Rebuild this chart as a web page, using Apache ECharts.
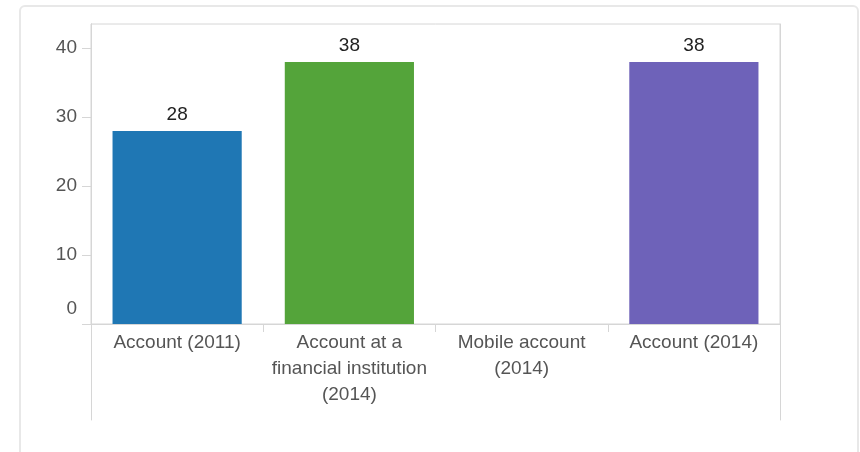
<!DOCTYPE html>
<html lang="en">
<head>
    <meta charset="UTF-8">
    <title>Account ownership</title>
    <script src="https://cdn.jsdelivr.net/npm/echarts@6/dist/echarts.min.js"></script>
    <style>
        html, body { margin: 0; padding: 0; background: #fff; }
        #frame {
            position: absolute; left: 19px; top: 5px;
            width: 836px; height: 470px;
            border: 2px solid #e8e8e8; border-radius: 6px;
        }
        #main { position: absolute; left: 0; top: 0; width: 860px; height: 452px; }
    </style>
</head>
<body>
    <div id="frame"></div>
    <div id="main"></div>
    <script>
        // 分类
        var categories = ['Account (2011)', 'Account at a\nfinancial institution\n(2014)', 'Mobile account\n(2014)', 'Account (2014)'];
        // 数值
        var values = [28, 38, null, 38];
        var barColors = ['#1f77b4', '#54a43a', null, '#6e62b9'];
        var yTicks = [0, 10, 20, 30, 40];

        var lineColor = '#d6d6d6';
        var font = 'Liberation Sans, Arial, sans-serif';

        var chart = echarts.init(document.getElementById('main'));
        chart.setOption({
            animation: false,
            grid: [
                { left: 91, right: 80, top: 24, bottom: 128, show: true, borderColor: lineColor, borderWidth: 1 },
                { left: 91, right: 80, top: 24, bottom: 32 }
            ],
            xAxis: [{
                type: 'category',
                data: categories,
                gridIndex: 0,
                axisLine: { lineStyle: { color: lineColor } },
                axisTick: { show: true, length: 8, interval: 0, lineStyle: { color: lineColor } },
                axisLabel: { interval: 0, color: '#555', fontSize: 19, fontFamily: font, lineHeight: 26, margin: 6 }
            }, {
                type: 'value', gridIndex: 1, show: false
            }],
            yAxis: [{
                type: 'value',
                gridIndex: 0,
                min: yTicks[0],
                max: 43.5,
                interval: 10,
                axisLine: { show: true, lineStyle: { color: lineColor } },
                axisTick: { show: true, length: 9, lineStyle: { color: lineColor } },
                splitLine: { show: false },
                axisLabel: {
                    color: '#555', fontSize: 19, fontFamily: font, margin: 14,
                    showMaxLabel: false,
                    formatter: function (v) {
                        if (yTicks.indexOf(v) < 0) return '';
                        return v === 0 ? '{z|0}' : String(v);
                    },
                    rich: { z: { color: '#555', fontSize: 19, fontFamily: font, padding: [0, 0, 30, 0] } }
                }
            }, {
                type: 'value', gridIndex: 1, position: 'left',
                axisLine: { show: true, lineStyle: { color: lineColor } },
                axisTick: { show: false }, axisLabel: { show: false }, splitLine: { show: false }
            }, {
                type: 'value', gridIndex: 1, position: 'right',
                axisLine: { show: true, lineStyle: { color: lineColor } },
                axisTick: { show: false }, axisLabel: { show: false }, splitLine: { show: false }
            }],
            series: [{
                type: 'bar',
                xAxisIndex: 0,
                yAxisIndex: 0,
                barCategoryGap: '25%',
                data: values.map(function (v, i) {
                    return { value: v, itemStyle: { color: barColors[i] } };
                }),
                label: {
                    show: true, position: 'top', distance: 7,
                    color: '#222', fontSize: 19, fontFamily: font
                }
            }]
        });
    </script>
</body>
</html>
